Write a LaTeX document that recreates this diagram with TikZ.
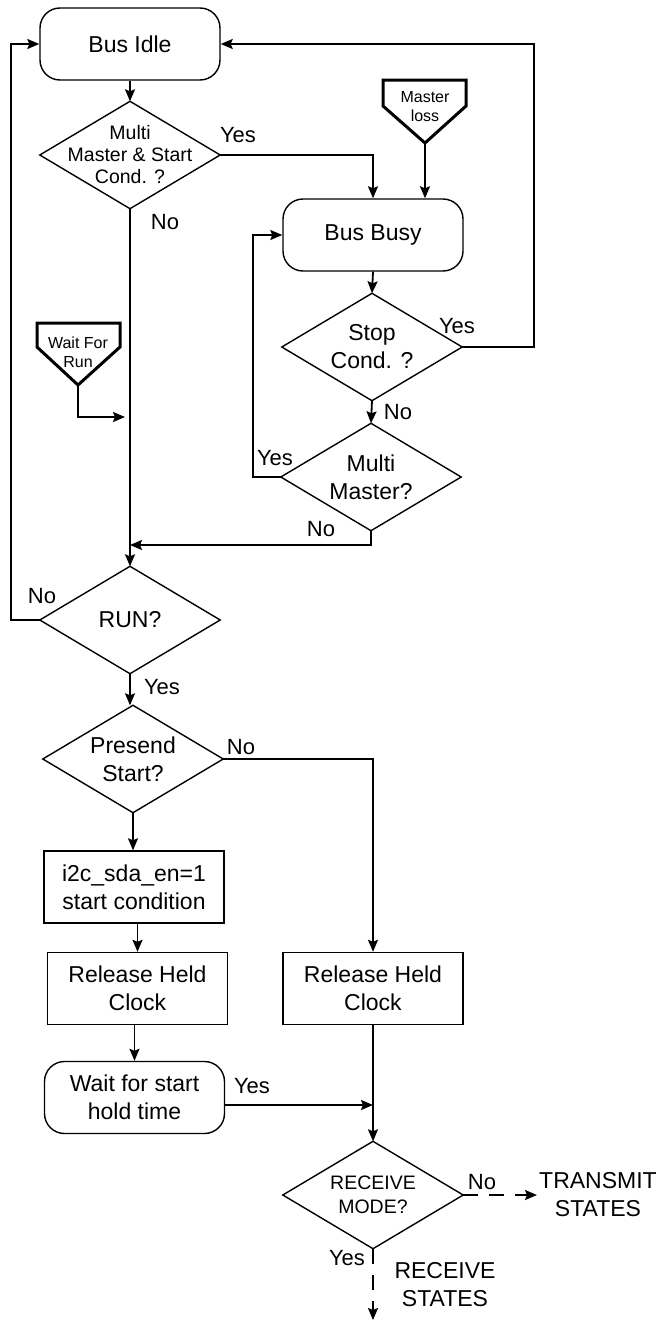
\documentclass[tikz,border=0pt]{standalone}
\usepackage{fontspec}
\setmainfont{Liberation Sans}
\usetikzlibrary{arrows.meta,calc}
\begin{document}
\begin{tikzpicture}[x=1pt,y=-1pt,
  shapeline/.style={line width=1.4pt},
  conn/.style={line width=1.8pt,-{Stealth[length=12pt,width=10pt,inset=2pt]}},
  dconn/.style={conn,dash pattern=on 15pt off 11pt},
  bigfont/.style={font=\fontsize{23}{28}\selectfont},
  term/.style={rectangle,rounded corners=20pt,draw,shapeline,minimum width=180pt,minimum height=72pt,inner sep=0pt,align=center,bigfont},
  proc/.style={rectangle,draw,shapeline,minimum width=180pt,minimum height=72pt,inner sep=0pt,align=center,bigfont},
  dec/.style={rectangle,minimum width=180pt,minimum height=107pt,inner sep=0pt,align=center,bigfont},
  smalldec/.style={dec,font=\fontsize{19.5}{22}\selectfont},
  offpage/.style={line width=3pt,line join=miter},
  offtext/.style={inner sep=0pt,align=center,font=\fontsize{16}{19}\selectfont},
  lbl/.style={inner sep=0pt,font=\fontsize{22}{26}\selectfont},
  outtext/.style={inner sep=0pt,align=center,font=\fontsize{23}{28}\selectfont},
]
\useasboundingbox (0,0) rectangle (661,1322);

% nodes
\node[term] (idle) at (130,44) {Bus Idle};
\node[smalldec] (d1) at (130,155) {Multi\\Master \& Start\\Cond. ?};
\node[term] (busy) at (373,235) {Bus Busy};
\node[dec] (stop) at (372,347) {Stop\\Cond. ?};
\node[dec] (mm) at (371,477) {Multi\\Master?};
\node[dec] (run) at (130,620) {RUN?};
\node[dec] (pre) at (133,759) {Presend\\Start?};
\node[proc] (i2c) at (134,887) {i2c\_sda\_en=1\\start condition};
\node[proc] (rel1) at (137.5,988.5) {Release Held\\Clock};
\node[proc] (rel2) at (373,988.5) {Release Held\\Clock};
\node[term] (wait) at (134.5,1097.5) {Wait for start\\hold time};
\node[dec,font=\fontsize{19.5}{24}\selectfont] (rx) at (373,1195) {RECEIVE\\MODE?};
\node[outtext] (tx) at (598,1195) {TRANSMIT\\STATES};
\node[outtext] (rs) at (445,1285) {RECEIVE\\STATES};

% diamonds
\foreach \n in {d1,stop,mm,run,pre,rx}
  \draw[shapeline] (\n.north) -- (\n.east) -- (\n.south) -- (\n.west) -- cycle;

% off-page connectors
\coordinate (mlTip) at (425,143);
\draw[offpage] (383,80) -- (466,80) -- (466,106) -- (mlTip) -- (383,106) -- cycle;
\node[offtext] (ml) at (425,107) {Master\\loss};
\coordinate (wrTip) at (78,385);
\draw[offpage] (37,323) -- (120,323) -- (120,347) -- (wrTip) -- (37,347) -- cycle;
\node[offtext] (wr) at (78,352) {Wait For\\Run};

% junction coordinates
\coordinate (j1) at (130,545);
\coordinate (j2) at (125,417);
\coordinate (j3) at (373,1105);
\coordinate (txEnd) at (537,1195);
\coordinate (rsEnd) at (373,1320);

% connectors
\draw[conn] (idle.south) -- (d1.north);
\draw[conn] (d1.east) -| (busy.north);
\draw[conn] (mlTip) -- (mlTip |- busy.north);
\draw[conn] (busy.south) -- (stop.north);
\draw[conn] (stop.east) -- ++(72,0) |- (idle.east);
\draw[conn] (stop.south) -- (mm.north);
\draw[conn] (mm.west) -- ++(-28,0) |- (busy.west);
\draw[conn] (mm.south) |- (j1);
\draw[conn] (d1.south) -- (run.north);
\draw[conn] (wrTip) |- (j2);
\draw[conn] (run.west) -- ++(-29,0) |- (idle.west);
\draw[conn] (run.south) -- (run.south |- pre.north);
\draw[conn] (pre.east) -| (rel2.north);
\draw[conn] (pre.south) -- (pre.south |- i2c.north);
\draw[conn] (rel1.north |- i2c.south) -- (rel1.north);
\draw[conn] (wait.north |- rel1.south) -- (wait.north);
\draw[conn] (rel2.south) -- (rx.north);
\draw[conn] (wait.east |- j3) -- (j3);
\draw[dconn] (rx.east) -- (txEnd);
\draw[dconn] (rx.south) -- (rsEnd);

% labels
\node[lbl] (l1) at (238,135) {Yes};
\node[lbl] (l2) at (165,222) {No};
\node[lbl] (l3) at (457,326) {Yes};
\node[lbl] (l4) at (398,412) {No};
\node[lbl] (l5) at (275,458) {Yes};
\node[lbl] (l6) at (321,529) {No};
\node[lbl] (l7) at (42,596) {No};
\node[lbl] (l8) at (162,687) {Yes};
\node[lbl] (l9) at (241,747) {No};
\node[lbl] (l10) at (252,1086) {Yes};
\node[lbl] (l11) at (482,1182) {No};
\node[lbl] (l12) at (347,1258) {Yes};
\end{tikzpicture}
\end{document}
